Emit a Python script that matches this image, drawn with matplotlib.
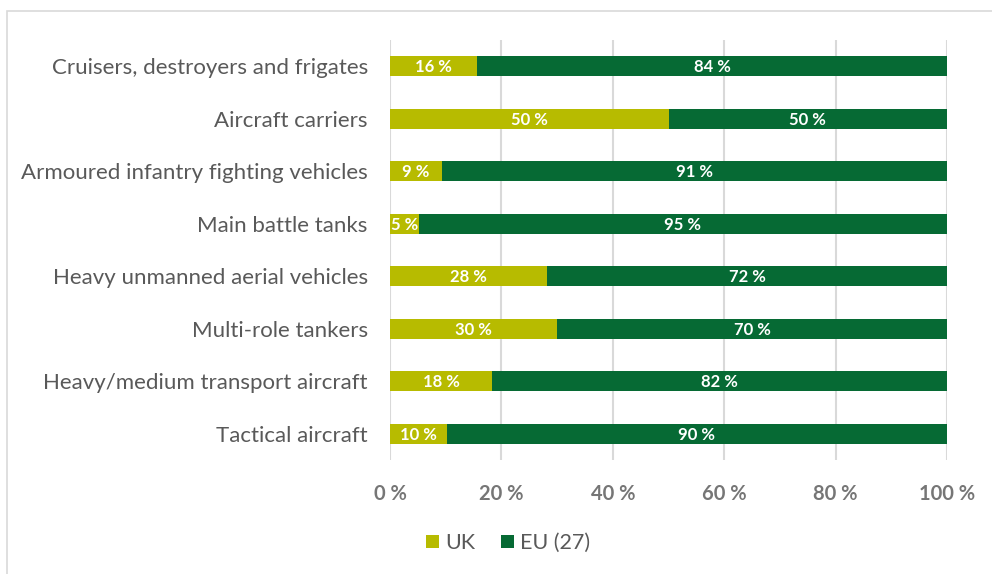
import matplotlib.pyplot as plt
import numpy as np
from matplotlib.patches import Rectangle

# data, top to bottom as in the chart
categories = ['Cruisers, destroyers and frigates', 'Aircraft carriers',
              'Armoured infantry fighting vehicles', 'Main battle tanks',
              'Heavy unmanned aerial vehicles', 'Multi-role tankers',
              'Heavy/medium transport aircraft', 'Tactical aircraft']
uk_share = [15.6, 50.0, 9.4, 5.2, 28.2, 30.0, 18.4, 10.2]
eu_share = [84.4, 50.0, 90.6, 94.8, 71.8, 70.0, 81.6, 89.8]
xticks = [0, 20, 40, 60, 80, 100]

uk_col = '#b7bb00'
eu_col = '#066a34'
grey_txt = '#595959'

plt.rcParams['font.family'] = ['Lato', 'DejaVu Sans']

fig = plt.figure(figsize=(9.92, 5.74), dpi=100)
fig.patches.append(Rectangle((7 / 992, -0.05), 1.1, 1 - 11 / 574 + 0.05,
                             transform=fig.transFigure, fill=False,
                             edgecolor='#d9d9d9', linewidth=1.2))
ax = fig.add_axes([390 / 992, 1 - 460 / 574, 557 / 992, 420 / 574])

y = np.arange(len(categories))
h = 0.38
uk_bars = ax.barh(y, uk_share, height=h, color=uk_col, label='UK', zorder=3)
eu_bars = ax.barh(y, eu_share, left=uk_share, height=h, color=eu_col,
                  label='EU (27)', zorder=3)

for bars, vals, lefts in [(uk_bars, uk_share, [0] * len(uk_share)),
                          (eu_bars, eu_share, uk_share)]:
    for yy, v, l in zip(y, vals, lefts):
        ax.text(l + v / 2, yy + 0.02, f'{round(v)} %', ha='center', va='center',
                color='white', fontsize=12, fontweight='bold', zorder=4)

ax.set_ylim(len(categories) - 0.5, -0.5)
ax.set_xlim(0, 100)
ax.set_yticks(y)
ax.set_yticklabels(categories, fontsize=16, color=grey_txt)
ax.set_xticks(xticks)
ax.set_xticklabels([f'{t} %' for t in xticks], fontsize=14.5,
                   fontweight='bold', color='#767676')
ax.tick_params(axis='both', length=0)
ax.tick_params(axis='x', pad=17)
ax.tick_params(axis='y', pad=16)
ax.grid(axis='x', color='#d9d9d9', linewidth=1.5, zorder=0)
for s in ax.spines.values():
    s.set_visible(False)

fig.legend(handles=[uk_bars, eu_bars], labels=['UK', 'EU (27)'],
           loc='center', bbox_to_anchor=(508 / 992, 1 - 543 / 574), ncol=2,
           frameon=False, fontsize=15.5, labelcolor=grey_txt,
           handlelength=0.6, handleheight=0.6, handletextpad=0.3,
           columnspacing=1.2)

fig.savefig('out.png', dpi=100)
